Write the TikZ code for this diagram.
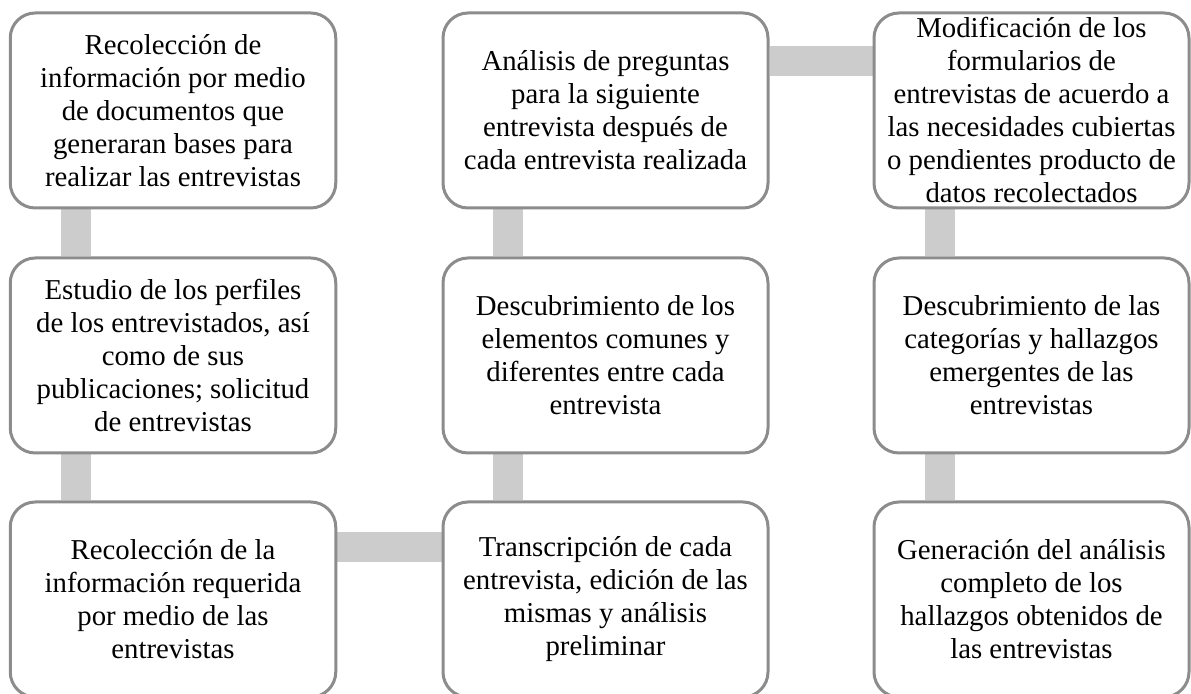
\documentclass[tikz,border=0pt]{standalone}
\usepackage{fontspec}
\setmainfont{Liberation Serif}
\usetikzlibrary{backgrounds}
\definecolor{boxline}{RGB}{140,140,140}
\definecolor{barfill}{RGB}{204,204,204}
\tikzset{
  stage/.style={draw=boxline, line width=1.5pt, fill=white, rounded corners=12.5pt,
    align=center, inner sep=0pt, minimum height=97.5pt,
    font=\fontsize{14.4pt}{16.5pt}\selectfont},
  bar/.style={draw=barfill, line width=15pt, line cap=butt}
}
\begin{document}
\begin{tikzpicture}[x=0.5pt, y=-0.5pt]
  \useasboundingbox (0,0) rectangle (1191,694);
  \clip (0,0) rectangle (1191,694);
  \draw
    (173,110.5) node[stage, minimum width=162.75pt] (r1c1)
      {Recolección de\\información por medio\\de documentos que\\generaran bases para\\realizar las entrevistas}
    (173,355.5) node[stage, minimum width=162.75pt] (r2c1)
      {Estudio de los perfiles\\de los entrevistados, así\\como de sus\\publicaciones; solicitud\\de entrevistas}
    (173,599.5) node[stage, minimum width=162.75pt] (r3c1)
      {Recolección de la\\información requerida\\por medio de las\\entrevistas}
    (605.5,110.5) node[stage, minimum width=162.5pt] (r1c2)
      {Análisis de preguntas\\para la siguiente\\entrevista después de\\cada entrevista realizada}
    (605.5,355.5) node[stage, minimum width=162.5pt] (r2c2)
      {Descubrimiento de los\\elementos comunes y\\diferentes entre cada\\entrevista}
    (605.5,599.5) node[stage, minimum width=162.5pt] (r3c2)
      {Transcripción de cada\\entrevista, edición de las\\mismas y análisis\\preliminar}
    (1031.5,110.5) node[stage, minimum width=157.5pt] (r1c3)
      {Modificación de los\\formularios de\\entrevistas de acuerdo a\\las necesidades cubiertas\\o pendientes producto de\\datos recolectados}
    (1031.5,355.5) node[stage, minimum width=157.5pt] (r2c3)
      {Descubrimiento de las\\categorías y hallazgos\\emergentes de las\\entrevistas}
    (1031.5,599.5) node[stage, minimum width=157.5pt] (r3c3)
      {Generación del análisis\\completo de los\\hallazgos obtenidos de\\las entrevistas};
  \begin{scope}[on background layer]
    \draw[bar] ([xshift=33.5pt]r1c1.south west) -- ([xshift=33.5pt]r2c1.north west);
    \draw[bar] ([xshift=33.5pt]r2c1.south west) -- ([xshift=33.5pt]r3c1.north west);
    \draw[bar] ([yshift=-23.5pt]r3c1.north east) -- ([yshift=-23.5pt]r3c2.north west);
    \draw[bar] ([xshift=33pt]r3c2.north west) -- ([xshift=33pt]r2c2.south west);
    \draw[bar] ([xshift=33pt]r2c2.north west) -- ([xshift=33pt]r1c2.south west);
    \draw[bar] ([yshift=-25pt]r1c2.north east) -- ([yshift=-25pt]r1c3.north west);
    \draw[bar] ([xshift=33.5pt]r1c3.south west) -- ([xshift=33.5pt]r2c3.north west);
    \draw[bar] ([xshift=33.5pt]r2c3.south west) -- ([xshift=33.5pt]r3c3.north west);
  \end{scope}
\end{tikzpicture}
\end{document}
